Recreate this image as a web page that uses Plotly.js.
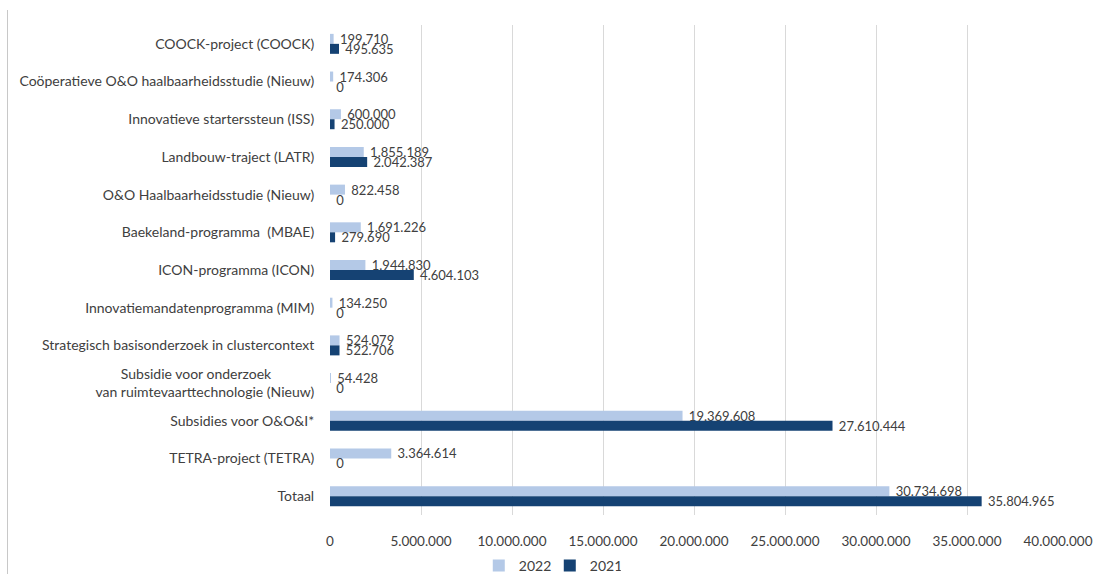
<!DOCTYPE html>
<html>
<head>
<meta charset="utf-8">
<script src="https://cdn.plot.ly/plotly-3.0.1.min.js"></script>
<style>
  html, body { margin: 0; padding: 0; background: #fff; }
  #wrap { position: relative; width: 1093px; height: 574px; }
  #border { position: absolute; left: 7px; top: 10px; width: 0; height: 564px; border-left: 1px solid #c8c8c8; }
  #chart { position: absolute; left: 0; top: 0; width: 1093px; height: 574px; }
</style>
</head>
<body>
<div id="wrap"><div id="chart"></div><div id="border"></div></div>
<script>
const categories = [
  "COOCK-project (COOCK)",
  "Coöperatieve O&O haalbaarheidsstudie (Nieuw)",
  "Innovatieve starterssteun (ISS)",
  "Landbouw-traject (LATR)",
  "O&O Haalbaarheidsstudie (Nieuw)",
  "Baekeland-programma  (MBAE)",
  "ICON-programma (ICON)",
  "Innovatiemandatenprogramma (MIM)",
  "Strategisch basisonderzoek in clustercontext",
  "Subsidie voor onderzoek\u00a0\u00a0\u00a0\u00a0\u00a0\u00a0\u00a0\u00a0\u00a0\u00a0\u00a0\u00a0<br>van ruimtevaarttechnologie (Nieuw)",
  "Subsidies voor O&O&I*",
  "TETRA-project (TETRA)",
  "Totaal"
];
const values2022 = [199710, 174306, 600000, 1855189, 822458, 1691226, 1944830, 134250, 524079, 54428, 19369608, 3364614, 30734698];
const values2021 = [495635, 0, 250000, 2042387, 0, 279690, 4604103, 0, 522706, 0, 27610444, 0, 35804965];
const xTicks = [0, 5000000, 10000000, 15000000, 20000000, 25000000, 30000000, 35000000, 40000000];

const FONT = "Lato, 'Open Sans', sans-serif";
const textColor = "#404040";

const traces = [
  {
    type: "bar", orientation: "h", name: "2022",
    y: categories, x: values2022,
    marker: { color: "#b4c9e7" },
    text: values2022, texttemplate: " %{x:,}", textposition: "outside",
    constraintext: "none",
    textfont: { family: FONT, size: 13, color: textColor },
    cliponaxis: false, hoverinfo: "skip"
  },
  {
    type: "bar", orientation: "h", name: "2021",
    y: categories, x: values2021,
    marker: { color: "#154273" },
    text: values2021, texttemplate: " %{x:,}", textposition: "outside",
    constraintext: "none",
    textfont: { family: FONT, size: 13, color: textColor },
    cliponaxis: false, hoverinfo: "skip"
  }
];

const layout = {
  width: 1093, height: 574,
  margin: { l: 330, r: 35, t: 25, b: 59, pad: 0 },
  paper_bgcolor: "#fff", plot_bgcolor: "#fff",
  separators: ",.",
  font: { family: FONT, size: 14, color: textColor },
  barmode: "group",
  bargap: 0.47, bargroupgap: 0,
  showlegend: true,
  legend: {
    orientation: "h", xref: "container", yref: "container",
    x: 0.503, xanchor: "center", y: 0.014, yanchor: "middle",
    font: { family: FONT, size: 14, color: textColor },
    traceorder: "normal", itemwidth: 30, entrywidth: 26
  },
  xaxis: {
    range: [0, 40000000], tickvals: xTicks, tickformat: ",d",
    showgrid: true, gridcolor: "#d9d9d9", gridwidth: 1,
    zeroline: false, showline: false,
    ticks: "outside", ticklen: 14, tickcolor: "rgba(0,0,0,0)",
    ticklabeloverflow: "allow",
    tickfont: { family: FONT, size: 13.5, color: textColor }
  },
  yaxis: {
    type: "category", categoryorder: "array", categoryarray: categories,
    autorange: "reversed",
    showgrid: false, zeroline: false, showline: false,
    ticks: "outside", ticklen: 12, tickcolor: "rgba(0,0,0,0)",
    tickfont: { family: FONT, size: 14, color: textColor }
  }
};

Plotly.newPlot("chart", traces, layout, { displayModeBar: false, staticPlot: true });
</script>
</body>
</html>
